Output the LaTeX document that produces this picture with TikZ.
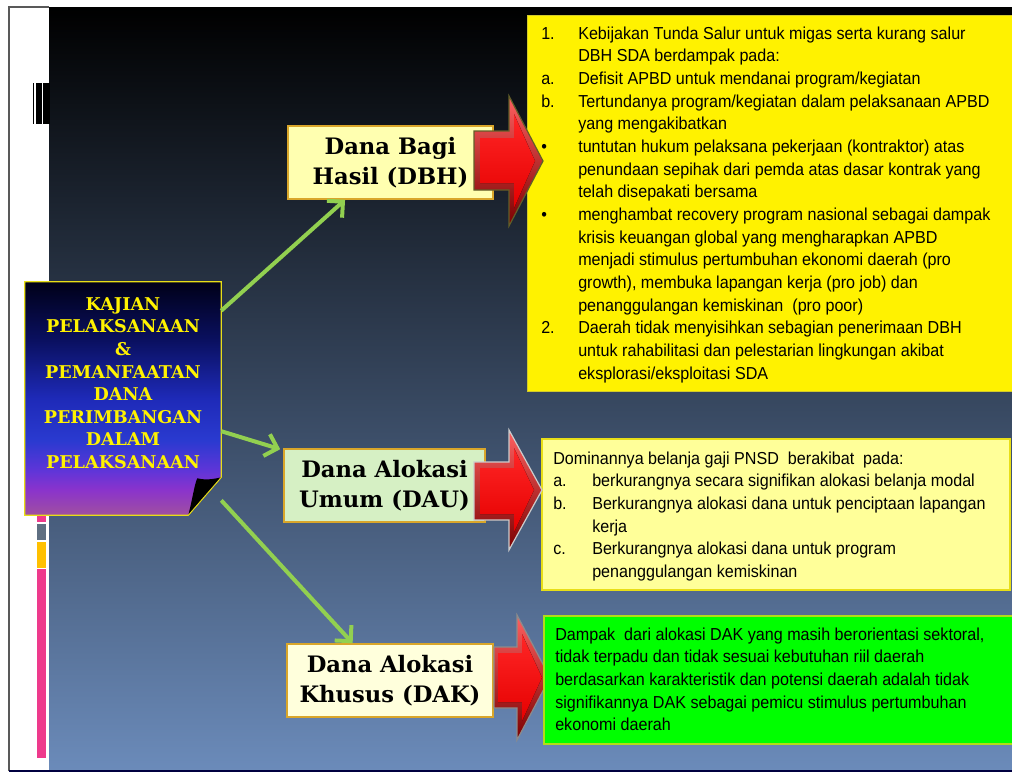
\documentclass[tikz,border=0pt]{standalone}
\usepackage{fontspec}
\usetikzlibrary{arrows.meta,calc}
\newfontfamily\bodyfont{Liberation Sans}[FakeStretch=0.93]
\newfontfamily\lblfont{DejaVu Serif}
\definecolor{bgmid}{RGB}{56,73,99}
\definecolor{bgbot}{RGB}{107,139,186}
\definecolor{mzero}{HTML}{A050A0}
\definecolor{mone}{HTML}{8A33CC}
\definecolor{mtwo}{HTML}{6035D8}
\definecolor{mthree}{HTML}{2A3AD0}
\definecolor{mfour}{HTML}{1E2AB8}
\definecolor{mfive}{HTML}{0A1060}
\definecolor{msix}{HTML}{000018}
\definecolor{barpink}{HTML}{EE3A8C}
\definecolor{bargray}{HTML}{5F6F82}
\definecolor{baryellow}{HTML}{FFC000}
\definecolor{lblborder}{HTML}{D9A62A}
\definecolor{dbhfill}{HTML}{FFFFB0}
\definecolor{daufill}{HTML}{D6F0C4}
\definecolor{dakfill}{HTML}{FFFFDC}
\definecolor{paleyellow}{HTML}{FFFF99}
\definecolor{brightgreen}{HTML}{00FF00}
\definecolor{conngreen}{HTML}{92D050}
\definecolor{redtop}{HTML}{FF6060}
\definecolor{redbot}{HTML}{7A0000}
\pgfdeclareverticalshading{mainshade}{100bp}{color(0bp)=(mzero); color(25bp)=(mzero); color(30.5bp)=(mone); color(34.5bp)=(mtwo); color(41bp)=(mthree); color(50bp)=(mfour); color(62.5bp)=(mfive); color(75bp)=(msix); color(100bp)=(msix)}
\begin{document}
\begin{tikzpicture}[x=0.75pt,y=-0.75pt,
  lbl/.style={draw=lblborder, line width=1.2pt, font={\lblfont\bfseries\fontsize{17}{22.5}\selectfont}, align=center, inner sep=0pt, minimum height=54.75pt},
  body/.style={font={\bodyfont\fontsize{13}{17}\selectfont}, inner sep=0pt, anchor=north west, align=left, text=black},
  conn/.style={draw=conngreen, line width=3pt, -{Straight Barb[length=8.5pt,width=17pt]}},
  redarrow/.style={draw=#1, line width=0.9pt, top color=redtop, middle color=red, bottom color=redbot},
  redface/.style={top color=red!85!white, bottom color=red!90!black}
]
\useasboundingbox (0,0) rectangle (1012,772);
\fill[white] (0,0) rectangle (1012,772);
% slide background
\shade[top color=black, middle color=bgmid, bottom color=bgbot] (49,7) rectangle (1013,771);
\draw[black!65, line width=0.8pt] (9,771) -- (9,7) -- (49,7);
\draw[black!75!blue, line width=0.8pt] (9,771) -- (1013,771);
% black bars top left
\fill[black] (33,83) rectangle (34.3,124);
\fill[black] (35.7,83) rectangle (41.7,124);
\fill[black] (42.7,83) rectangle (49.5,124);
% side bars
\fill[barpink] (37,510) rectangle (46,522);
\fill[bargray] (37,524) rectangle (46,539.7);
\fill[baryellow] (37,542) rectangle (46,567.7);
\fill[barpink] (37,569) rectangle (46,757.7);
% main box
\node[minimum width=147pt, minimum height=174.75pt, inner sep=0pt] (main) at (123,398.5) {};
\shade[shading=mainshade] (main.north west) -- (main.north east) -- ($(main.south east)+(0,-38)$) -- ($(main.south east)+(-33,0)$) -- (main.south west) -- cycle;
\draw[yellow!90!black, line width=0.8pt] (main.north west) -- (main.north east) -- ($(main.south east)+(0,-38)$) -- ($(main.south east)+(-33,0)$) -- (main.south west) -- cycle;
\fill[black] ($(main.south east)+(-33,0)$) .. controls ($(main.south east)+(-28,-20)$) and ($(main.south east)+(-27,-30)$) .. ($(main.south east)+(-24,-37)$) .. controls ($(main.south east)+(-16,-35)$) and ($(main.south east)+(-8,-36)$) .. ($(main.south east)+(0,-38)$) -- cycle;
\draw[yellow!90!black, line width=0.6pt] ($(main.south east)+(-33,0)$) -- ($(main.south east)+(0,-38)$);
\node[font={\lblfont\bfseries\fontsize{13.2}{16.95}\selectfont}, text=yellow, align=center, inner sep=0pt] (maintext) at (123,383) {KAJIAN\\PELAKSANAAN\\\&\\PEMANFAATAN\\DANA\\PERIMBANGAN\\DALAM\\PELAKSANAAN};
% right boxes
\node[draw=yellow!80!black, line width=0.6pt, fill=yellow, anchor=north west, minimum width=366pt, minimum height=282pt, inner sep=0pt] (dbhbox) at (527,15) {};
\node[body] (dbhtext) at (541,23) {\begin{tabular}{@{}p{27.75pt}@{}l@{}}
1. & Kebijakan Tunda Salur untuk migas serta kurang salur\\
 & DBH SDA berdampak pada:\\
a. & Defisit APBD untuk mendanai program/kegiatan\\
b. & Tertundanya program/kegiatan dalam pelaksanaan APBD\\
 & yang mengakibatkan\\
\textbullet & tuntutan hukum pelaksana pekerjaan (kontraktor) atas\\
 & penundaan sepihak dari pemda atas dasar kontrak yang\\
 & telah disepakati bersama\\
\textbullet & menghambat recovery program nasional sebagai dampak\\
 & krisis keuangan global yang mengharapkan APBD\\
 & menjadi stimulus pertumbuhan ekonomi daerah (pro\\
 & growth), membuka lapangan kerja (pro job) dan\\
 & penanggulangan kemiskinan\ \ (pro poor)\\
2. & Daerah tidak menyisihkan sebagian penerimaan DBH\\
 & untuk rahabilitasi dan pelestarian lingkungan akibat\\
 & eksplorasi/eksploitasi SDA
\end{tabular}};
\node[draw=yellow!90!black, line width=1.2pt, fill=paleyellow, anchor=north west, minimum width=351pt, minimum height=113.25pt, inner sep=0pt] (daubox) at (541,438) {};
\node[body] (dautext) at (553,448) {\begin{tabular}{@{}p{29.25pt}@{}l@{}}
\multicolumn{2}{@{}l@{}}{Dominannya belanja gaji PNSD\ \ berakibat\ \ pada:}\\
a. & berkurangnya secara signifikan alokasi belanja modal\\
b. & Berkurangnya alokasi dana untuk penciptaan lapangan\\
 & kerja\\
c. & Berkurangnya alokasi dana untuk program\\
 & penanggulangan kemiskinan
\end{tabular}};
% label boxes
\node[lbl, fill=dbhfill, minimum width=153.75pt] (dbhl) at (390.5,162.5) {Dana Bagi\\Hasil (DBH)};
\node[lbl, fill=daufill, minimum width=150.75pt] (daul) at (384.5,485.5) {Dana Alokasi\\Umum (DAU)};
\node[lbl, fill=dakfill, minimum width=154.5pt] (dakl) at (390,680.5) {Dana Alokasi\\Khusus (DAK)};
% DAK arrow (behind green box)
\draw[redarrow=black!45] (494,647) -- (517,647) -- (517,615) -- (550,677.5) -- (517,740) -- (517,708) -- (494,708) -- cycle;
\fill[redface] (498,653) -- (522,653) -- (522,634) -- (542,677.5) -- (522,721) -- (522,702) -- (498,702) -- cycle;
\node[draw=yellow!70!green, line width=1.2pt, fill=brightgreen, anchor=north west, minimum width=354pt, minimum height=96pt, inner sep=0pt] (dakbox) at (543,615) {};
\node[body] (daktext) at (555,624) {\begin{tabular}{@{}l@{}}
Dampak\ \ dari alokasi DAK yang masih berorientasi sektoral,\\
tidak terpadu dan tidak sesuai kebutuhan riil daerah\\
berdasarkan karakteristik dan potensi daerah adalah tidak\\
signifikannya DAK sebagai pemicu stimulus pertumbuhan\\
ekonomi daerah
\end{tabular}};
% red arrows
\draw[redarrow={olive!60!black}] (474,131) -- (509,131) -- (509,96) -- (543,161) -- (509,226) -- (509,190) -- (474,190) -- cycle;
\fill[redface] (480,138) -- (514,138) -- (514,114) -- (535,161) -- (514,208) -- (514,183) -- (480,183) -- cycle;
\draw[redarrow=black!20] (474,462) -- (509,462) -- (509,430) -- (542,490) -- (509,550) -- (509,520) -- (474,520) -- cycle;
\fill[redface] (480,468) -- (514,468) -- (514,448) -- (534,490) -- (514,532) -- (514,514) -- (480,514) -- cycle;
% connectors
\draw[conn] ($(main.north east)!0.124!(main.south east)$) -- ($(dbhl.south west)!0.28!(dbhl.south east)$);
\draw[conn] ($(main.north east)!0.64!(main.south east)$) -- ($(daul.north west)+(-3,1)$);
\draw[conn] ($(main.north east)!0.936!(main.south east)$) -- ($(dakl.north west)!0.32!(dakl.north east)$);
\end{tikzpicture}
\end{document}
